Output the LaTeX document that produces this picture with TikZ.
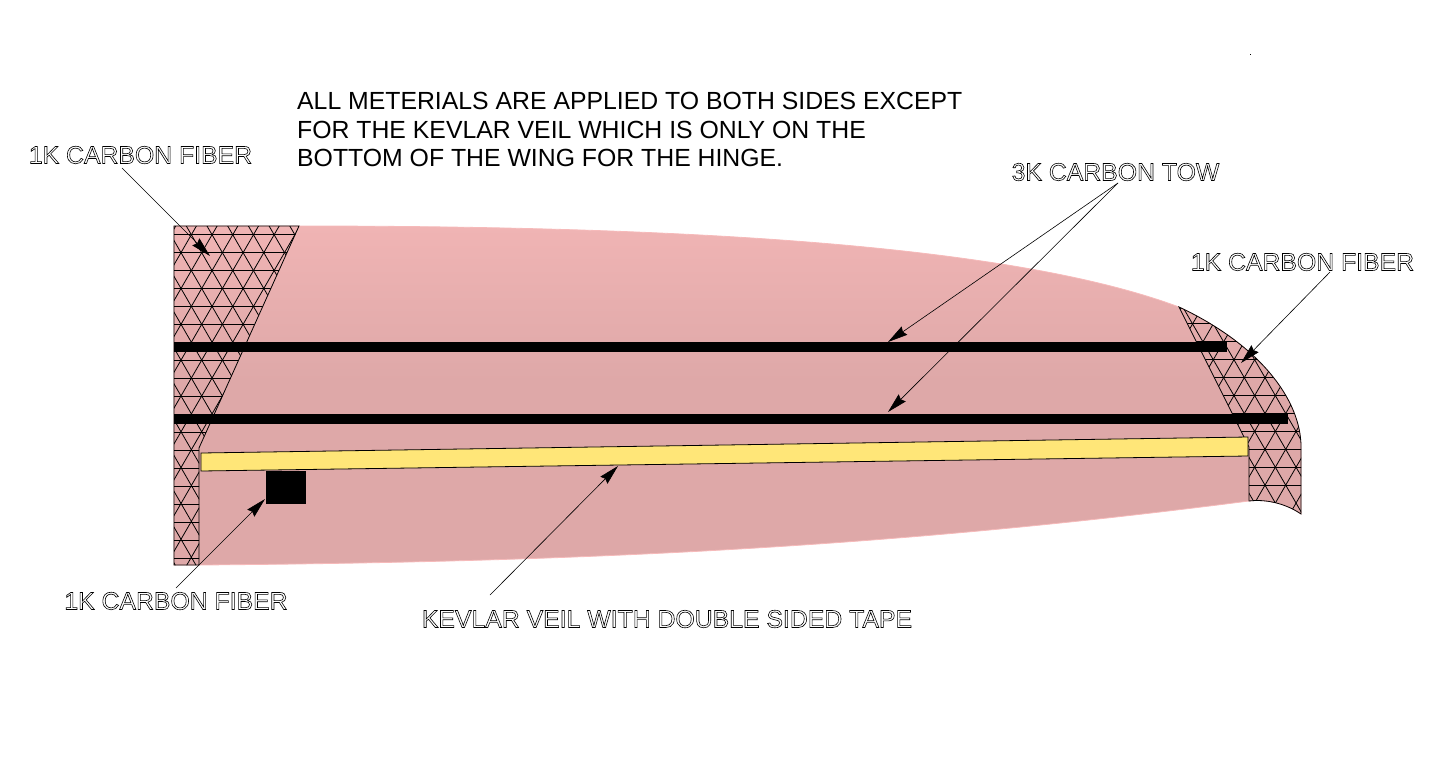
\documentclass[tikz,border=0pt]{standalone}
\usepackage{fontspec}
\setmainfont{Liberation Sans}
\usetikzlibrary{arrows.meta}
\tikzset{
  wing/.style={draw=black, line width=0.8pt},
  mesh/.style={black, line width=0.8pt},
  tow/.style={fill=black, draw=none},
  call/.style={line width=0.6pt, -{Stealth[length=20pt,width=10pt,inset=2pt]}},
  note/.style={font=\fontsize{24.8}{28.7}\selectfont, align=left, anchor=north west, inner sep=0pt},
  tag/.style={font=\fontsize{24.8}{28}\selectfont, inner sep=0pt},
}
\newcommand{\hollow}[1]{\special{pdf:code q 1 Tr 0.6 w}#1\special{pdf:code Q}}
\definecolor{wingtop}{RGB}{240,180,180}
\definecolor{wingbot}{RGB}{222,168,168}
\definecolor{wingedge}{RGB}{246,186,186}
\definecolor{veil}{RGB}{255,230,120}
\pgfdeclareverticalshading{wingfade}{100bp}{color(0bp)=(wingbot); color(52bp)=(wingbot); color(75bp)=(wingtop); color(100bp)=(wingtop)}
\begin{document}
\begin{tikzpicture}[x=1pt,y=-1pt]
  \useasboundingbox (0,0) rectangle (1437,758);
  % wing body
  \path [shading=wingfade, draw=wingedge, line width=0.8pt]
    (174,226) -- (299,226) .. controls (640,226) and (1000,240) .. (1179,307)
    .. controls (1260,345) and (1301,400) .. (1301,447) -- (1301,514)
    .. controls (1285,503) and (1265,499) .. (1249,501)
    .. controls (900,546) and (600,562) .. (199,565) -- (174,565) -- cycle;
  % left mesh
  \begin{scope}
    \clip (174,226) -- (299,226) -- (199,448) -- (199,565) -- (174,565) -- cycle;
    \foreach \n in {-1,...,18}
      \draw [mesh] (150,234.3+18*\n) -- (320,234.3+18*\n);
    \foreach \n in {-12,...,22} {
      \draw [mesh] (181+20.7*\n-104,324.3-180) -- (181+20.7*\n+156,324.3+270);
      \draw [mesh] (181+20.7*\n+104,324.3-180) -- (181+20.7*\n-156,324.3+270);
    }
  \end{scope}
  \draw [wing] (299,226) -- (199,448) -- (199,565) -- (174,565) -- (174,226) -- cycle;
  % right mesh
  \begin{scope}
    \clip (1179,307) .. controls (1260,345) and (1301,400) .. (1301,447) -- (1301,514)
      .. controls (1285,503) and (1265,499) .. (1249,501) -- (1249,447) -- cycle;
    \foreach \n in {-4,...,10}
      \draw [mesh] (1170,305.3+18*\n) -- (1310,305.3+18*\n);
    \foreach \n in {-12,...,12} {
      \draw [mesh] (1265+20.7*\n-104,449.3-180) -- (1265+20.7*\n+104,449.3+180);
      \draw [mesh] (1265+20.7*\n+104,449.3-180) -- (1265+20.7*\n-104,449.3+180);
    }
  \end{scope}
  \draw [wing] (1179,307) .. controls (1260,345) and (1301,400) .. (1301,447) -- (1301,514)
      .. controls (1285,503) and (1265,499) .. (1249,501) -- (1249,447) -- cycle;
  % tows and veil
  \fill [tow] (174,342) rectangle (1227,352);
  \fill [tow] (174,414) rectangle (1288,424);
  \draw [black, line width=0.8pt, fill=veil] (201,453) -- (1248,437) -- (1248,456) -- (201,471) -- cycle;
  \fill [tow] (266,471) rectangle (306,504);
  \fill (1250,54) rectangle (1251,55);
  % text
  \node [note] (remark) at (297,92) {ALL METERIALS ARE APPLIED TO BOTH SIDES EXCEPT\\FOR THE KEVLAR VEIL WHICH IS ONLY ON THE\\BOTTOM OF THE WING FOR THE HINGE.};
  \node [tag] (fiberA) at (140.5,155) {\hollow{1K CARBON FIBER}};
  \node [tag] (fiberB) at (1302.5,262) {\hollow{1K CARBON FIBER}};
  \node [tag] (fiberC) at (176,601) {\hollow{1K CARBON FIBER}};
  \node [tag] (towlab) at (1115.5,172) {\hollow{3K CARBON TOW}};
  \node [tag] (veillab) at (667,619) {\hollow{KEVLAR VEIL WITH DOUBLE SIDED TAPE}};
  % arrow ends
  \coordinate (endA) at (210,256);
  \coordinate (endB) at (1241,363);
  \coordinate (endC) at (265,499);
  \coordinate (endD) at (888,342);
  \coordinate (endE) at (888,412);
  \coordinate (endF) at (618,466);
  \coordinate (startA) at (122,168);
  \coordinate (startB) at (1330,272);
  \coordinate (startC) at (176,588);
  \coordinate (startD) at (1118,183);
  \coordinate (startF) at (490,595);
  \draw [call] (startA) -- (endA);
  \draw [call] (startB) -- (endB);
  \draw [call] (startC) -- (endC);
  \draw [call] (startD) -- (endD);
  \draw [call] (startD) -- (endE);
  \draw [call] (startF) -- (endF);
\end{tikzpicture}
\end{document}
